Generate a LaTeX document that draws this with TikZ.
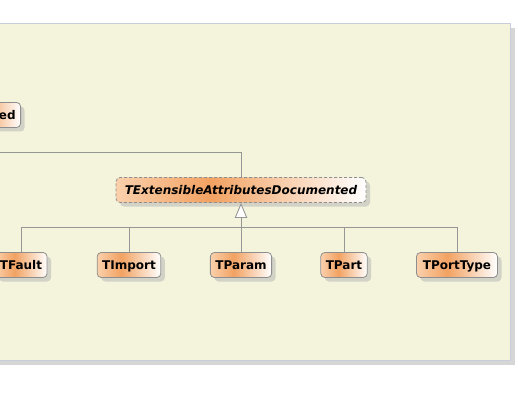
\documentclass[tikz,border=0pt]{standalone}
\usepackage{fontspec}
\setmainfont{DejaVu Sans}
\usetikzlibrary{arrows.meta,positioning,shadows}
\definecolor{panelfill}{HTML}{F4F4DC}
\definecolor{panelline}{HTML}{C9CDD9}
\definecolor{panelshadow}{HTML}{D6D6D6}
\definecolor{classpeach}{HTML}{FAD0AC}
\definecolor{classorange}{HTML}{F2A262}
\definecolor{classline}{HTML}{8E8E8E}
\definecolor{linkgray}{HTML}{969696}
\pgfdeclarehorizontalshading{classshade}{100bp}{color(0bp)=(classpeach); color(25bp)=(classpeach); color(44bp)=(classorange); color(75bp)=(white); color(100bp)=(white)}

\begin{document}
\begin{tikzpicture}[
    x=1pt, y=-1pt,
    font=\fontsize{12}{14}\selectfont\bfseries,
    cls/.style={draw=classline, line width=0.8pt, rounded corners=4pt, shading=classshade, minimum height=25pt, text height=8.8pt, text depth=0pt, inner xsep=5pt, inner ysep=0pt, drop shadow={shadow xshift=4pt, shadow yshift=-4pt, fill=black!30}},
    abstractcls/.style={cls, dash pattern=on 3pt off 2pt, font=\fontsize{12}{14}\selectfont\bfseries\itshape},
    link/.style={draw=linkgray, line width=0.9pt},
    inherit/.style={link, -{Triangle[length=15pt, width=12.5pt, fill=white]}}
]
\clip (0,0) rectangle (518,403);
\fill[panelshadow] (0,28) rectangle (515,365);
\filldraw[fill=panelfill, draw=panelline, line width=0.8pt] (-5,23) rectangle (510,360);

\node[cls, anchor=east, text width=50pt, align=right] (extdoc) at (21,115) {ed};
\node[abstractcls, minimum width=250pt] (ext) at (241,190) {TExtensibleAttributesDocumented};

\node[cls, minimum width=52pt] (tfault) at (21,265) {TFault};
\node[cls, minimum width=63pt] (timport) at (129,265) {TImport};
\node[cls, minimum width=60pt] (tparam) at (241,265) {TParam};
\node[cls, minimum width=45pt] (tpart) at (344,265) {TPart};
\node[cls, minimum width=81pt] (tporttype) at (457,265) {TPortType};

\coordinate (offleft) at (-6,152);
\coordinate (bus) at (241,227);

\draw[link] (ext.north) |- (offleft);
\foreach \c in {tfault,timport,tparam,tpart,tporttype}
  \draw[link] (\c.north) |- (bus);
\draw[inherit] (bus) -- (ext.south);
\end{tikzpicture}
\end{document}
